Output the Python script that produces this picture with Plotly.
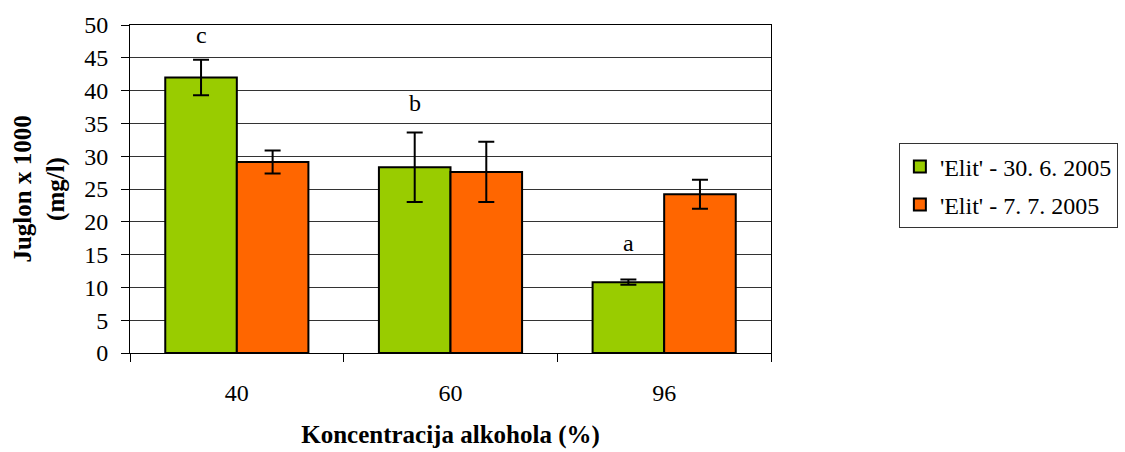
import plotly.graph_objects as go

categories = ["40", "60", "96"]
series1_name = "'Elit' - 30. 6. 2005"
series2_name = "'Elit' - 7. 7. 2005"
series1 = [42.0, 28.3, 10.8]
series1_err = [2.7, 5.3, 0.4]
series2 = [29.1, 27.6, 24.2]
series2_err = [1.75, 4.6, 2.2]
letters = ["c", "b", "a"]
letter_y = [48.5, 38.1, 16.8]

FONT = "Liberation Serif, 'Times New Roman', 'DejaVu Serif', serif"
BARGAP = 0.33

fig = go.Figure()
fig.add_trace(go.Bar(
    x=categories, y=series1, name=series1_name, legendgroup="g1",
    marker=dict(color="#99CC00", line=dict(color="black", width=2)),
    error_y=dict(type="data", array=series1_err, color="black", thickness=2, width=8),
))
fig.add_trace(go.Bar(
    x=categories, y=series2, name=series2_name, legendgroup="g2",
    marker=dict(color="#FF6600", line=dict(color="black", width=2)),
    error_y=dict(type="data", array=series2_err, color="black", thickness=2, width=8),
))

off = (1 - BARGAP) / 4
for i, (t, yv) in enumerate(zip(letters, letter_y)):
    fig.add_annotation(x=i - off, y=yv, xref="x", yref="y", text=t, showarrow=False,
                       font=dict(family=FONT, size=24, color="black"))

fig.update_layout(
    width=1125, height=452,
    margin=dict(l=130, r=354, t=25, b=99, autoexpand=False),
    paper_bgcolor="white", plot_bgcolor="white",
    barmode="group", bargap=BARGAP, bargroupgap=0,
    font=dict(family=FONT, size=24, color="black"),
    legend=dict(xref="container", yref="container", x=0.799, y=0.683,
                xanchor="left", yanchor="top",
                bordercolor="#333333", borderwidth=1,
                font=dict(family=FONT, size=24, color="black"),
                traceorder="grouped", tracegroupgap=4),
    showlegend=True,
)
fig.update_xaxes(
    type="category", showline=True, linecolor="black", linewidth=1, mirror=True,
    ticks="outside", tickson="boundaries", ticklen=8, tickcolor="black",
    ticklabelstandoff=18, tickfont=dict(family=FONT, size=24), automargin=False,
    title=dict(text="<b>Koncentracija alkohola (%)</b>", font=dict(family=FONT, size=25), standoff=20),
)
fig.update_yaxes(
    range=[0, 50], dtick=5, showline=True, linecolor="black", linewidth=1, mirror=True,
    ticks="outside", ticklen=8, tickcolor="black",
    showgrid=True, gridcolor="#333333", gridwidth=1, zeroline=False,
    ticklabelstandoff=8, tickfont=dict(family=FONT, size=24), automargin=False,
    title=dict(text="<b>Juglon x 1000<br>(mg/l)</b>", font=dict(family=FONT, size=25), standoff=12),
)

fig.write_html("out.html")
